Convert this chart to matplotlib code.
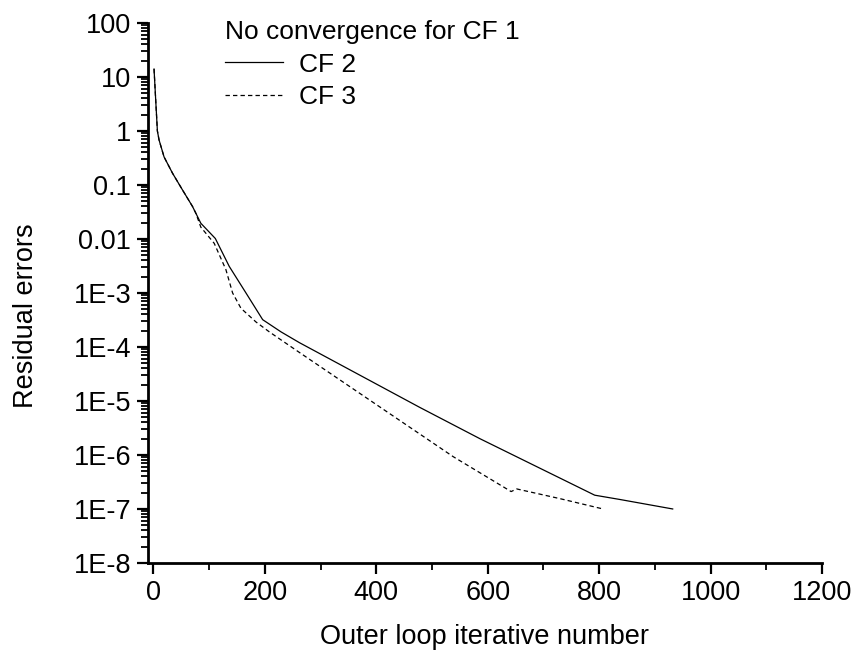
import numpy as np
import matplotlib.pyplot as plt
from matplotlib.ticker import FixedLocator, LogLocator, NullFormatter

plt.rcParams["font.family"] = ["Liberation Sans", "DejaVu Sans"]

# residual error histories
cf2_iter = [1, 4, 7, 10, 19, 34, 52, 70, 85, 111, 136, 166, 196, 229, 262,
            478, 586, 792, 837, 932]
cf2_err = [14, 3.7, 1.0, 0.68, 0.33, 0.166, 0.081, 0.04, 0.0195, 0.0102,
           0.0031, 0.001, 3.2e-4, 1.9e-4, 1.2e-4, 7.6e-6, 2.0e-6, 1.8e-7,
           1.5e-7, 1e-7]

cf3_iter = [1, 4, 7, 10, 19, 34, 52, 70, 76, 85, 109, 130, 142, 157, 184, 208,
            262, 538, 642, 652, 730, 807]
cf3_err = [14, 3.7, 1.0, 0.68, 0.33, 0.166, 0.081, 0.04, 0.030, 0.0165, 0.0083,
           0.0027, 1e-3, 5.2e-4, 2.9e-4, 1.9e-4, 7.9e-5, 9.3e-7, 2.1e-7,
           2.35e-7, 1.55e-7, 1e-7]

x_ticks = [0, 200, 400, 600, 800, 1000, 1200]
y_ticks = [1e2, 1e1, 1e0, 1e-1, 1e-2, 1e-3, 1e-4, 1e-5, 1e-6, 1e-7, 1e-8]
y_labels = ["100", "10", "1", "0.1", "0.01", "1E-3", "1E-4", "1E-5",
            "1E-6", "1E-7", "1E-8"]

fig = plt.figure(figsize=(8.55, 6.55), dpi=100)
ax = fig.add_axes([0.173, 0.1405, 0.7884, 0.8245])

ax.plot(cf2_iter, cf2_err, color="black", lw=0.9, label="CF 2")
ax.plot(cf3_iter, cf3_err, color="black", lw=0.9, dashes=(3.5, 2.5), label="CF 3")

ax.set_yscale("log")
ax.set_xlim(-10, 1200)
ax.set_ylim(1e-8, 100)

ax.xaxis.set_major_locator(FixedLocator(x_ticks))
ax.xaxis.set_minor_locator(FixedLocator([100, 300, 500, 700, 900, 1100]))
ax.yaxis.set_major_locator(FixedLocator(y_ticks))
ax.set_yticklabels(y_labels)
ax.yaxis.set_minor_locator(LogLocator(base=10, subs=np.arange(2, 10), numticks=20))
ax.yaxis.set_minor_formatter(NullFormatter())

for s in ["top", "right"]:
    ax.spines[s].set_visible(False)
for s in ["left", "bottom"]:
    ax.spines[s].set_linewidth(2)

ax.tick_params(which="major", direction="out", length=8, width=1.6,
               labelsize=19.5, pad=4)
ax.tick_params(which="minor", direction="out", length=5, width=1.3)

ax.set_xlabel("Outer loop iterative number", fontsize=19.5, labelpad=13)
ax.set_ylabel("Residual errors", fontsize=19.5)
ax.yaxis.set_label_coords(-0.162, 0.457)

leg = ax.legend(title="No convergence for CF 1", loc="upper left",
                bbox_to_anchor=(0.095, 1.03), frameon=False, fontsize=19,
                title_fontsize=19, handlelength=2.2, handletextpad=0.6,
                labelspacing=0.33, borderpad=0, alignment="left")

fig.savefig("out.png", dpi=100)
